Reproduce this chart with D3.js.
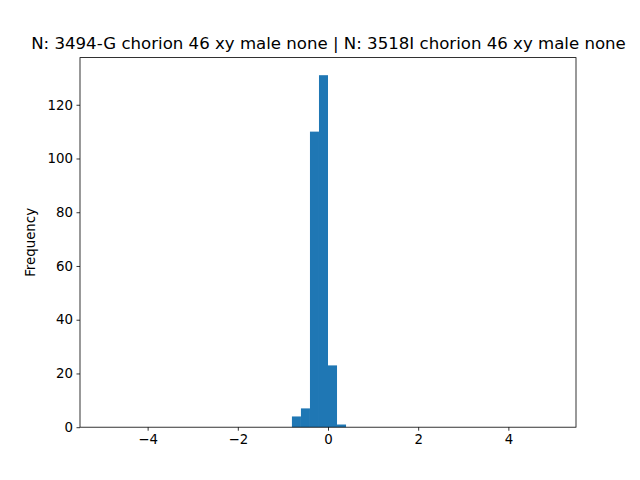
<!DOCTYPE html>
<html>
<head>
<meta charset="utf-8">
<script src="https://cdn.jsdelivr.net/npm/d3@7"></script>
<style>
  body { margin: 0; background: #fff; }
  svg { display: block; font-family: "DejaVu Sans", sans-serif; }
</style>
</head>
<body>
<svg id="chart" width="640" height="480"></svg>
<script>
// Data (histogram, bin width 0.2 over range [-5, 5]; only non-empty bins listed)
const titleText = "N: 3494-G chorion 46 xy male none | N: 3518I chorion 46 xy male none";
const binStarts = [-0.8, -0.6, -0.4, -0.2, 0.0, 0.2];
const binCounts = [4, 7, 110, 131, 23, 1];
const binWidth = 0.2;
const histRange = [-5, 5];
const xTicks = [-4, -2, 0, 2, 4];
const yTicks = [0, 20, 40, 60, 80, 100, 120];
const yLabel = "Frequency";

(function () {
const svg = d3.select("#chart");
const mLeft = 80, mRight = 576, mTop = 57.6, mBottom = 427.2;

const span = histRange[1] - histRange[0];
const x = d3.scaleLinear()
  .domain([histRange[0] - 0.05 * span, histRange[1] + 0.05 * span])
  .range([mLeft, mRight]);
const maxC = d3.max(binCounts);
const y = d3.scaleLinear().domain([0, maxC * 1.05]).range([mBottom, mTop]);

const bins = binStarts.map((s, i) => ({ x0: s, x1: s + binWidth, c: binCounts[i] }));

svg.append("g").selectAll("rect").data(bins).enter().append("rect")
  .attr("x", d => x(d.x0))
  .attr("width", d => x(d.x1) - x(d.x0))
  .attr("y", d => y(d.c))
  .attr("height", d => y(0) - y(d.c))
  .attr("fill", "#1f77b4");

const fmt = d => (d < 0 ? "\u2212" + Math.abs(d) : String(d));

const xAxis = d3.axisBottom(x).tickValues(xTicks).tickFormat(fmt).tickSizeOuter(0).tickSize(3.5).tickPadding(3.5);
const gx = svg.append("g").attr("transform", `translate(0,${mBottom})`).call(xAxis);
const yAxis = d3.axisLeft(y).tickValues(yTicks).tickFormat(fmt).tickSizeOuter(0).tickSize(3.5).tickPadding(3.5);
const gy = svg.append("g").attr("transform", `translate(${mLeft},0)`).call(yAxis);

[gx, gy].forEach(g => {
  g.select(".domain").remove();
  g.selectAll(".tick line").attr("stroke", "#000").attr("stroke-width", 0.8);
  g.selectAll(".tick text").attr("fill", "#000").style("font-size", "13.33px")
    .style("font-family", "'DejaVu Sans', sans-serif");
});

svg.append("rect")
  .attr("x", mLeft).attr("y", mTop)
  .attr("width", mRight - mLeft).attr("height", mBottom - mTop)
  .attr("fill", "none").attr("stroke", "#000").attr("stroke-width", 0.8);

svg.append("text")
  .attr("x", 328.5).attr("y", mTop - 8.5)
  .attr("text-anchor", "middle")
  .style("font-size", "16.6px")
  .attr("fill", "#000")
  .text(titleText);

svg.append("text")
  .attr("transform", `translate(35,${(mTop + mBottom) / 2}) rotate(-90)`)
  .attr("text-anchor", "middle")
  .style("font-size", "13.33px")
  .attr("fill", "#000")
  .text(yLabel);
})();
</script>
</body>
</html>
